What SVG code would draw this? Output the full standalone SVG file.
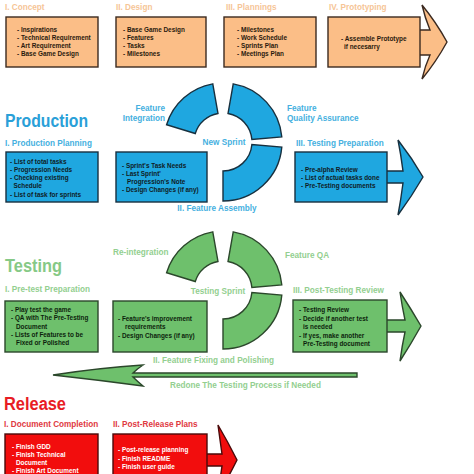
<svg xmlns="http://www.w3.org/2000/svg" width="474" height="474" viewBox="0 0 474 474">
<style>
text{font-family:"Liberation Sans",Arial,sans-serif;font-weight:bold}
.t{font-size:6.4px}
.lb{font-size:8.2px}
.ttl{font-size:18px}
.o{fill:#fbbe87;stroke:#3b2a20;stroke-width:1.4}
.ot{fill:#2a1a0e}
.ol{fill:#f6c596}
.b{fill:#1fa7e0;stroke:#17303f;stroke-width:1.4}
.bt{fill:#0f1c26}
.bl{fill:#45b0e0}
.g{fill:#6ec06c;stroke:#2b472b;stroke-width:1.4}
.gt{fill:#0d1f0d}
.gl{fill:#93cf90}
.r{fill:#f20d0d;stroke:#4a0a0a;stroke-width:1.4}
.rt{fill:#ffffff}
.rl{fill:#e0393f}
</style>
<defs>
<g id="ring">
<path d="M166.58,124.75 A59,59 0 0 1 212.76,83.90 L217.97,113.44 A29,29 0 0 0 195.27,133.52 Z"/>
<path d="M233.24,83.90 A59,59 0 0 1 281.78,136.86 L251.89,139.47 A29,29 0 0 0 228.04,113.44 Z"/>
<path d="M281.78,147.14 A59,59 0 0 1 223,201 L223,171 A29,29 0 0 0 251.89,144.53 Z"/>
</g>
</defs>
<rect width="474" height="474" fill="#ffffff"/>

<g id="connectors">
<path class="o" d="M414,30 L430,30 Q425,18 422,5 Q436,22 447,42 Q436,62 422,79 Q425,66 430,55 L414,55 Z"/>
<path class="b" d="M382,171 L403,171 Q401,155 398,140 Q412,158 423,177 Q412,196 398,215 Q401,199 403,183 L382,183 Z"/>
<path class="g" d="M382,320 L405,320 Q402,306 400,292 Q411,309 421,326 Q411,344 400,361 Q402,346 405,332 L382,332 Z"/>
<path class="r" d="M202,454 L222,454 Q220,440 218,425 Q228,442 237,460 Q228,478 218,495 Q220,480 222,466 L202,466 Z"/>
<path class="g" d="M357,373 L133,373 Q137,369 143,365 Q98,368 53,375 Q98,380 143,386 Q137,381 133,377 L357,377 Z"/>
</g>

<g id="concept">
<text class="lb ol" x="5" y="10">I. Concept</text>
<rect class="o" x="6" y="17" width="92" height="50"/>
<text class="t ot" x="17" y="31.5">- Inspirations</text>
<text class="t ot" x="17" y="39.5">- Technical Requirement</text>
<text class="t ot" x="17" y="47.5">- Art Requirement</text>
<text class="t ot" x="17" y="55.5">- Base Game Design</text>
</g>
<g id="design">
<text class="lb ol" x="116" y="10">II. Design</text>
<rect class="o" x="116" y="17" width="90" height="50"/>
<text class="t ot" x="123" y="31.5">- Base Game Design</text>
<text class="t ot" x="123" y="39.5">- Features</text>
<text class="t ot" x="123" y="47.5">- Tasks</text>
<text class="t ot" x="123" y="55.5">- Milestones</text>
</g>
<g id="plannings">
<text class="lb ol" x="226" y="10">III. Plannings</text>
<rect class="o" x="224" y="17" width="92" height="50"/>
<text class="t ot" x="237" y="31.5">- Milestones</text>
<text class="t ot" x="237" y="39.5">- Work Schedule</text>
<text class="t ot" x="237" y="47.5">- Sprints Plan</text>
<text class="t ot" x="237" y="55.5">- Meetings Plan</text>
</g>
<g id="prototyping">
<text class="lb ol" x="329" y="10">IV. Prototyping</text>
<rect class="o" x="328" y="17" width="92" height="50"/>
<text class="t ot" x="341" y="40.5">- Assemble Prototype</text>
<text class="t ot" x="344" y="48.5">if necesarry</text>
</g>

<g id="production-title">
<text class="ttl" x="5" y="127" fill="#2aa0d8" textLength="83" lengthAdjust="spacingAndGlyphs">Production</text>
</g>
<g id="production-cycle">
<use href="#ring" class="b"/>
<text class="lb bl" x="165" y="111" text-anchor="end">Feature</text>
<text class="lb bl" x="165" y="121" text-anchor="end">Integration</text>
<text class="lb bl" x="287" y="111">Feature</text>
<text class="lb bl" x="287" y="121">Quality Assurance</text>
<text class="lb bl" x="224" y="145" text-anchor="middle">New Sprint</text>
</g>
<g id="production-planning">
<text class="lb bl" x="5" y="146">I. Production Planning</text>
<rect class="b" x="6" y="152" width="92" height="50"/>
<text class="t bt" x="10" y="163.5">- List of total tasks</text>
<text class="t bt" x="10" y="171.8">- Progression Needs</text>
<text class="t bt" x="10" y="180">- Checking existing</text>
<text class="t bt" x="13.5" y="188.2">Schedule</text>
<text class="t bt" x="10" y="196.5">- List of task for sprints</text>
</g>
<g id="feature-assembly">
<rect class="b" x="116" y="152" width="91" height="50"/>
<text class="t bt" x="122" y="167.5">- Sprint's Task Needs</text>
<text class="t bt" x="122" y="175.5">- Last Sprint'</text>
<text class="t bt" x="127" y="183.5">Progression's Note</text>
<text class="t bt" x="122" y="191.5">- Design Changes (if any)</text>
<text class="lb bl" x="217" y="211" text-anchor="middle">II. Feature Assembly</text>
</g>
<g id="testing-preparation">
<text class="lb bl" x="296" y="146">III. Testing Preparation</text>
<rect class="b" x="295" y="152" width="92" height="50"/>
<text class="t bt" x="301" y="171.5">- Pre-alpha Review</text>
<text class="t bt" x="301" y="179.5">- List of actual tasks done</text>
<text class="t bt" x="301" y="187.5">- Pre-Testing documents</text>
</g>

<g id="testing-title">
<text class="ttl" x="5" y="272" fill="#86c986" textLength="57" lengthAdjust="spacingAndGlyphs">Testing</text>
</g>
<g id="testing-cycle">
<use href="#ring" class="g" transform="translate(0,148)"/>
<text class="lb gl" x="113" y="255">Re-integration</text>
<text class="lb gl" x="285" y="258">Feature QA</text>
<text class="lb gl" x="218" y="293.5" text-anchor="middle">Testing Sprint</text>
</g>
<g id="pretest-preparation">
<text class="lb gl" x="5" y="292">I. Pre-test Preparation</text>
<rect class="g" x="5" y="301" width="93" height="51"/>
<text class="t gt" x="11" y="311.5">- Play test the game</text>
<text class="t gt" x="11" y="320">- QA with The Pre-Testing</text>
<text class="t gt" x="16" y="328.5">Document</text>
<text class="t gt" x="11" y="336.5">- Lists of Features to be</text>
<text class="t gt" x="16" y="345">Fixed or Polished</text>
</g>
<g id="feature-fixing">
<rect class="g" x="113" y="301" width="94" height="51"/>
<text class="t gt" x="118" y="320.5">- Feature's improvement</text>
<text class="t gt" x="125" y="329">requirements</text>
<text class="t gt" x="118" y="337.5">- Design Changes (if any)</text>
<text class="lb gl" x="213.5" y="363" text-anchor="middle">II. Feature Fixing and Polishing</text>
</g>
<g id="post-testing-review">
<text class="lb gl" x="293" y="293">III. Post-Testing Review</text>
<rect class="g" x="293" y="300" width="94" height="52"/>
<text class="t gt" x="299" y="311.5">- Testing Review</text>
<text class="t gt" x="299" y="320.5">- Decide if another test</text>
<text class="t gt" x="303" y="328.5">is needed</text>
<text class="t gt" x="299" y="337.5">- If yes, make another</text>
<text class="t gt" x="303" y="345.5">Pre-Testing document</text>
</g>
<g id="redo-label">
<text class="lb gl" x="170" y="388">Redone The Testing Process if Needed</text>
</g>

<g id="release-title">
<text class="ttl" x="4" y="410" fill="#e81c24" textLength="62" lengthAdjust="spacingAndGlyphs">Release</text>
</g>
<g id="document-completion">
<text class="lb rl" x="4" y="427">I. Document Completion</text>
<rect class="r" x="5" y="434" width="93" height="50"/>
<text class="t rt" x="12" y="449">- Finish GDD</text>
<text class="t rt" x="12" y="457">- Finish Technical</text>
<text class="t rt" x="16" y="465">Document</text>
<text class="t rt" x="12" y="472.5">- Finish Art Document</text>
</g>
<g id="post-release-plans">
<text class="lb rl" x="113" y="427">II. Post-Release Plans</text>
<rect class="r" x="113" y="434" width="94" height="50"/>
<text class="t rt" x="118" y="452">- Post-release planning</text>
<text class="t rt" x="118" y="460.5">- Finish README</text>
<text class="t rt" x="118" y="469">- Finish user guide</text>
</g>
</svg>
